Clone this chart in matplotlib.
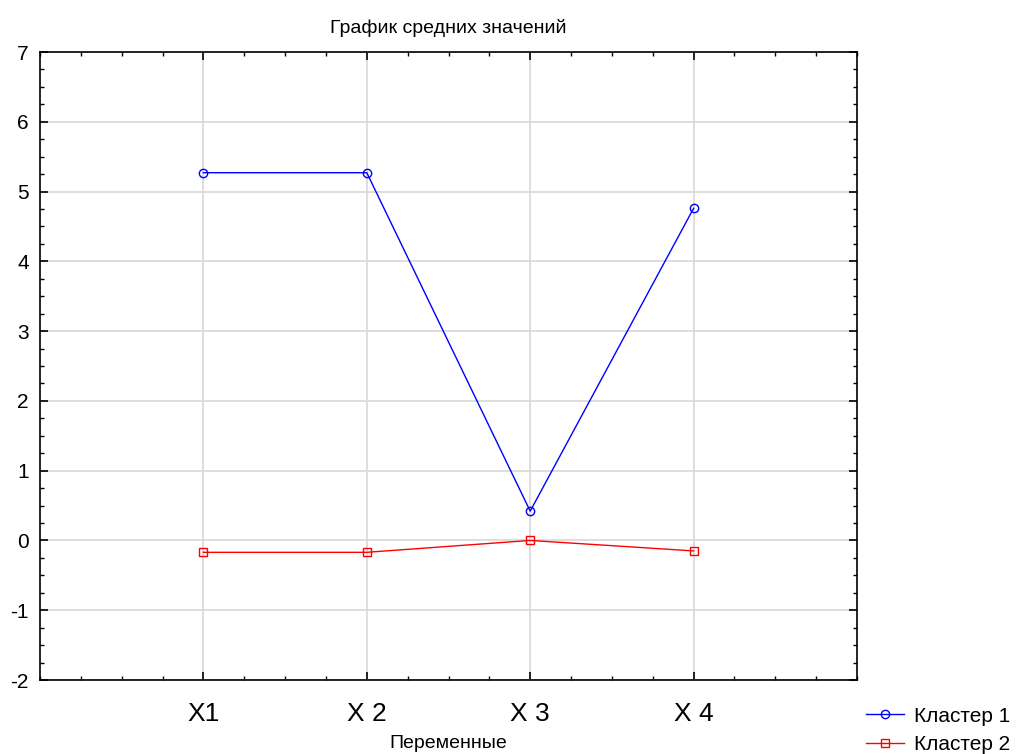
import matplotlib
matplotlib.use("Agg")
import matplotlib.pyplot as plt
from matplotlib.ticker import MultipleLocator

categories = ["X1", "X 2", "X 3", "X 4"]
cluster1 = [5.27, 5.27, 0.42, 4.76]
cluster2 = [-0.17, -0.17, 0.00, -0.15]
series_names = ["Кластер 1", "Кластер 2"]

plt.rcParams['font.family'] = ['Liberation Sans', 'DejaVu Sans']
plt.rcParams['axes.unicode_minus'] = False

fig = plt.figure(figsize=(10.21, 7.54), dpi=100)
W, H = 1021, 754
ax = fig.add_axes([40 / W, 1 - 680 / H, (857 - 40) / W, (680 - 52) / H])

xs = list(range(1, len(categories) + 1))
ax.plot(xs, cluster1, color='#0000ff', lw=1, marker='o', ms=6, mfc='none', mew=1, label=series_names[0], zorder=3)
ax.plot(xs, cluster2, color='#ff0000', lw=1, marker='s', ms=6, mfc='none', mew=1, label=series_names[1], zorder=3)

ax.set_xlim(0, 5)
ax.set_ylim(-2, 7)
ax.set_xticks(xs)
ax.set_xticklabels(categories, fontsize=19)
ax.yaxis.set_major_locator(MultipleLocator(1))
ax.yaxis.set_minor_locator(MultipleLocator(0.25))
ax.xaxis.set_minor_locator(MultipleLocator(0.25))
ax.tick_params(axis='both', which='both', direction='in', top=True, right=True)
ax.tick_params(axis='both', which='major', length=6, width=1.2)
ax.tick_params(axis='both', which='minor', length=3, width=1)
ax.tick_params(axis='y', labelsize=15, pad=8)
ax.tick_params(axis='x', pad=16)
ax.grid(True, which='major', color='#d8d8d8', lw=1.2, zorder=0)
for s in ax.spines.values():
    s.set_linewidth(1.2)

ax.set_title("График средних значений", fontsize=14, pad=14)
ax.set_xlabel("Переменные", fontsize=14, labelpad=6)

fig.legend(loc='lower right', bbox_to_anchor=(1.0, -0.014), frameon=False, fontsize=15,
           handlelength=1.8, labelspacing=0.45, borderaxespad=0.1, handletextpad=0.5)

fig.savefig("out.png", dpi=100)
